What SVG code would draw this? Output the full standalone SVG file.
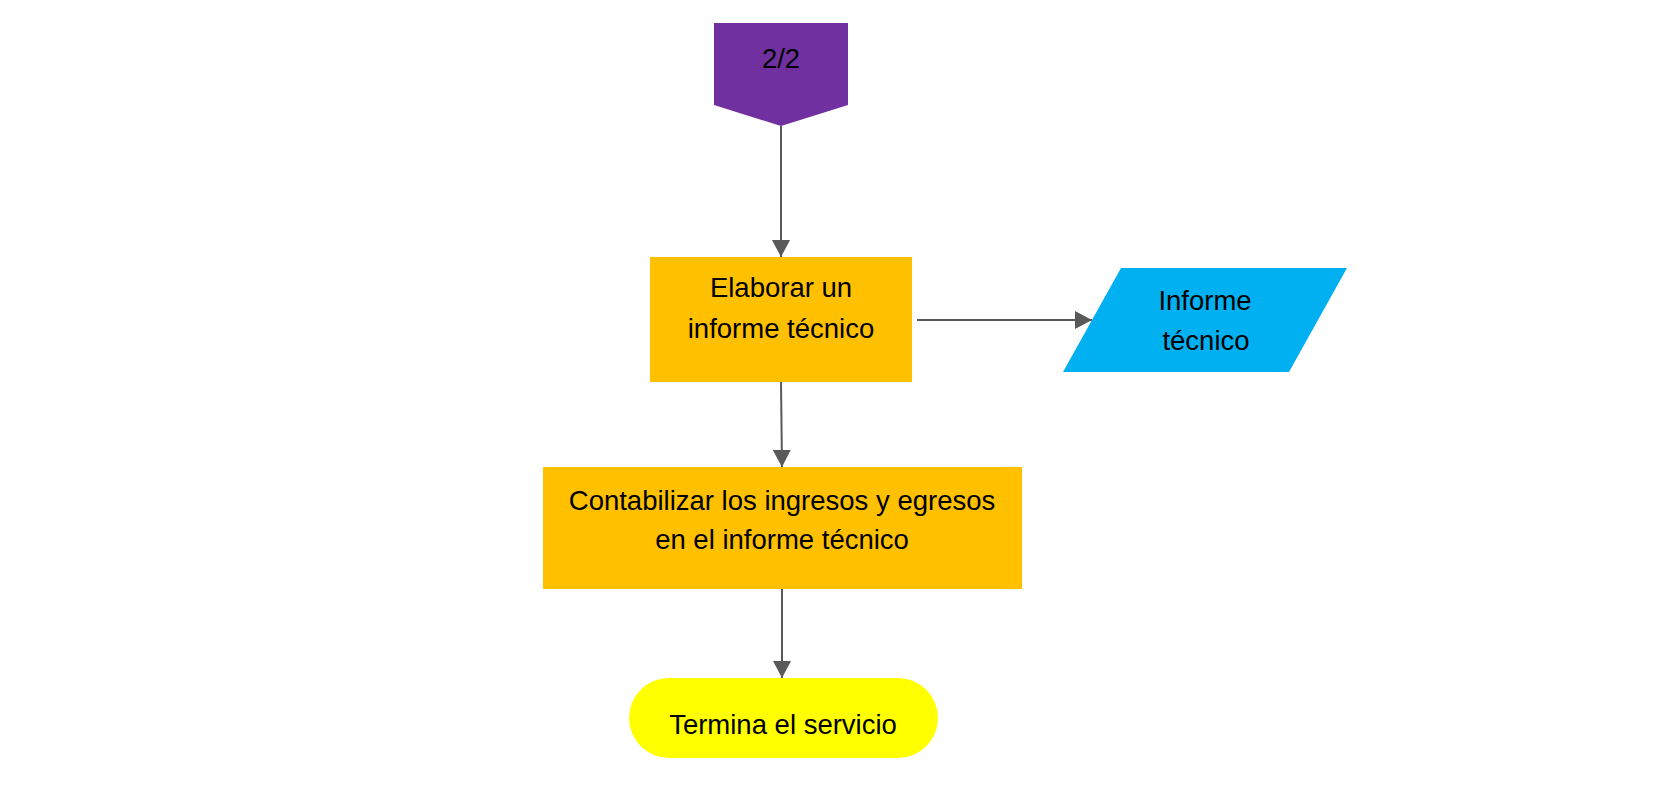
<svg xmlns="http://www.w3.org/2000/svg" width="1654" height="796" viewBox="0 0 1654 796">
<defs>
<style>
.t{font-family:"Liberation Sans",Arial,sans-serif;font-size:27.5px;fill:#000;text-anchor:middle;dominant-baseline:central}
.c{stroke:#595959;stroke-width:2;fill:none}
</style>
<marker id="ah" markerUnits="userSpaceOnUse" markerWidth="18" markerHeight="18" viewBox="0 0 18 18" refX="17" refY="9" orient="auto">
<path d="M0,0 L17,9 L0,18 Z" fill="#595959"/>
</marker>
</defs>
<rect width="1654" height="796" fill="#fff"/>
<g id="connectors">
<line class="c" x1="781" y1="126" x2="781" y2="257" marker-end="url(#ah)"/>
<line class="c" x1="917" y1="320" x2="1092" y2="320" marker-end="url(#ah)"/>
<line class="c" x1="781" y1="382" x2="782" y2="467" marker-end="url(#ah)"/>
<line class="c" x1="782" y1="589" x2="782" y2="678" marker-end="url(#ah)"/>
</g>
<g id="node-offpage">
<polygon points="714,23 848,23 848,105 781,126 714,105" fill="#7030A0"/>
<text class="t" x="781" y="58">2/2</text>
</g>
<g id="node-elaborar">
<rect x="650" y="257" width="262" height="125" fill="#FFC000"/>
<text class="t" x="781" y="287">Elaborar un</text>
<text class="t" x="781" y="328">informe técnico</text>
</g>
<g id="node-informe">
<polygon points="1121,268 1347,268 1289,372 1063,372" fill="#00B0F0"/>
<text class="t" x="1205" y="300">Informe</text>
<text class="t" x="1206" y="340">técnico</text>
</g>
<g id="node-contabilizar">
<rect x="543" y="467" width="479" height="122" fill="#FFC000"/>
<text class="t" x="782" y="500">Contabilizar los ingresos y egresos</text>
<text class="t" x="782" y="539">en el informe técnico</text>
</g>
<g id="node-termina">
<rect x="629" y="678" width="309" height="80" rx="40" ry="40" fill="#FFFF00"/>
<text class="t" x="783" y="724">Termina el servicio</text>
</g>
</svg>
